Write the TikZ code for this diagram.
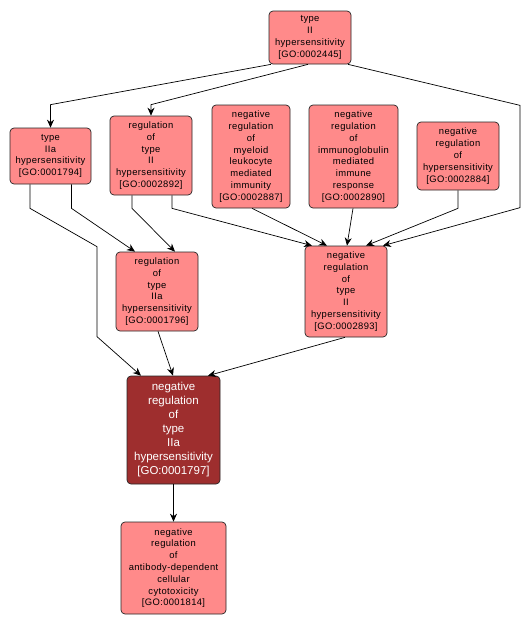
\documentclass[tikz,border=0pt]{standalone}
\usepackage{fontspec}
\setmainfont{Liberation Sans}
\newfontfamily\lab[LetterSpace=4]{Liberation Sans}
\usetikzlibrary{arrows.meta}
\definecolor{lightred}{RGB}{255,138,138}
\definecolor{darkred}{RGB}{158,46,46}
\tikzset{
  term/.style={draw=black!85, line width=0.7pt, fill=lightred, rounded corners=4pt,
    inner sep=0pt, align=center, font=\lab\fontsize{9.4}{11.8}\selectfont},
  focus/.style={draw=black!85, line width=0.7pt, fill=darkred, rounded corners=4pt,
    inner sep=0pt, align=center, text=white, font=\fontsize{11.5}{14}\selectfont},
  arr/.style={-{Stealth[length=8pt,width=7pt]}, line width=0.7pt, black}
}
\begin{document}
\begin{tikzpicture}[x=1pt,y=-1pt]
\useasboundingbox (0,0) rectangle (529,627);
\node[term, minimum width=82pt, minimum height=53pt] (n2445) at (310,37.5)
  {type\\II\\hypersensitivity\\{[}GO:0002445{]}};
\node[term, minimum width=81pt, minimum height=56pt] (n1794) at (50.5,156)
  {type\\IIa\\hypersensitivity\\{[}GO:0001794{]}};
\node[term, minimum width=82pt, minimum height=79pt] (n2892) at (151,155.5)
  {regulation\\of\\type\\II\\hypersensitivity\\{[}GO:0002892{]}};
\node[term, minimum width=78pt, minimum height=103pt] (n2887) at (251,156.5)
  {negative\\regulation\\of\\myeloid\\leukocyte\\mediated\\immunity\\{[}GO:0002887{]}};
\node[term, minimum width=89pt, minimum height=103pt] (n2890) at (353.5,156.5)
  {negative\\regulation\\of\\immunoglobulin\\mediated\\immune\\response\\{[}GO:0002890{]}};
\node[term, minimum width=82pt, minimum height=68pt] (n2884) at (458,156)
  {negative\\regulation\\of\\hypersensitivity\\{[}GO:0002884{]}};
\node[term, minimum width=82pt, minimum height=79pt] (n1796) at (157,291.5)
  {regulation\\of\\type\\IIa\\hypersensitivity\\{[}GO:0001796{]}};
\node[term, minimum width=82pt, minimum height=91pt] (n2893) at (346,291.5)
  {negative\\regulation\\of\\type\\II\\hypersensitivity\\{[}GO:0002893{]}};
\node[focus, minimum width=93pt, minimum height=108pt] (n1797) at (173.5,430)
  {negative\\regulation\\of\\type\\IIa\\hypersensitivity\\{[}GO:0001797{]}};
\node[term, minimum width=105pt, minimum height=92pt] (n1814) at (173.5,568)
  {negative\\regulation\\of\\antibody-dependent\\cellular\\cytotoxicity\\{[}GO:0001814{]}};

\draw[arr] ([xshift=-39pt]n2445.south) -- ([yshift=23pt]n1794.north) -- (n1794.north);
\draw[arr] ([xshift=-2pt]n2445.south) -- ([yshift=11pt]n2892.north) -- (n2892.north);
\draw[arr] ([xshift=38pt]n2445.south) -- ([xshift=210pt,yshift=-41pt]n2445.south)
  -- ([xshift=174pt,yshift=38pt]n2893.north) -- ([xshift=37pt]n2893.north);
\draw[arr] ([xshift=21pt]n1794.south) -- ([xshift=21pt,yshift=-24pt]n1794.south) -- ([xshift=-22pt]n1796.north);
\draw[arr] ([xshift=-20.5pt]n1794.south) -- ([xshift=-20.5pt,yshift=-24pt]n1794.south)
  -- ([xshift=-60pt,yshift=5pt]n1796.north) -- ([xshift=-76.5pt,yshift=39pt]n1797.north) -- ([xshift=-32.5pt]n1797.north);
\draw[arr] ([xshift=-19pt]n2892.south) -- ([xshift=-19pt,yshift=-13pt]n2892.south) -- ([xshift=18pt]n1796.north);
\draw[arr] ([xshift=21pt]n2892.south) -- ([xshift=21pt,yshift=-13pt]n2892.south) -- ([xshift=-34pt]n2893.north);
\draw[arr] ([xshift=1pt]n2887.south) -- ([xshift=-19pt]n2893.north);
\draw[arr] ([xshift=-0.5pt]n2890.south) -- ([xshift=1pt]n2893.north);
\draw[arr] (n2884.south) -- ([yshift=-18pt]n2884.south) -- ([xshift=20pt]n2893.north);
\draw[arr] ([xshift=1pt]n1796.south) -- ([xshift=-0.5pt]n1797.north);
\draw[arr] ([xshift=-1pt]n2893.south) -- ([xshift=34.5pt]n1797.north);
\draw[arr] (n1797.south) -- (n1814.north);
\end{tikzpicture}
\end{document}
